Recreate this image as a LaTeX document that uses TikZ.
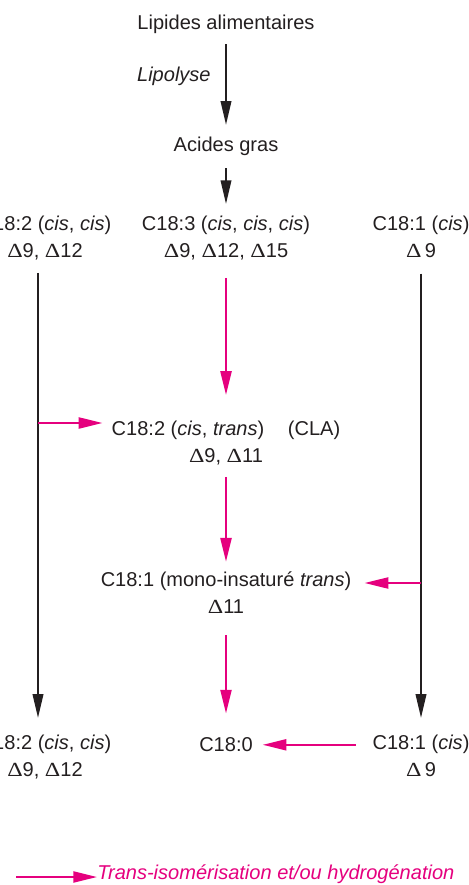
\documentclass[tikz,border=0pt]{standalone}
\usepackage{graphicx}
\usepackage{fontspec}
\setmainfont{Liberation Sans}
\newfontfamily\deltafont{Liberation Serif}
\usetikzlibrary{arrows.meta}
\definecolor{isored}{RGB}{229,0,126}
\definecolor{inkblack}{RGB}{35,31,32}
\newcommand{\dl}{\scalebox{1.2}[1]{\deltafont Δ}}
\tikzset{x=0.02cm, y=-0.02cm,
lbl/.style={ % Sets the look of every text label
inner sep=0pt,
anchor=base,
align=center,
text=inkblack,
font=\fontsize{11.4}{15}\selectfont},
blk/.style={ % Black conversion arrows
draw=inkblack,
line width=1.1pt,
-{Triangle[length=13.5pt,width=6pt]}},
mag/.style={ % Trans-isomerisation arrows
draw=isored,
line width=1.1pt,
-{Triangle[length=13.5pt,width=6.3pt]}}}

\begin{document}
\begin{tikzpicture}
	\useasboundingbox (0,0) rectangle (469,885);
	\clip (0,0) rectangle (469,885);
	% top
	\node[lbl] (lip) at (226,30) {Lipides alimentaires};
	\node[lbl, anchor=base east] (lipo) at (211,82) {\itshape Lipolyse};
	\node[lbl] (acid) at (226,152) {Acides gras};
	% first row (base = last line)
	\node[lbl] (l1) at (45,257) {C18:2 (\textit{cis}, \textit{cis})\\\dl9, \dl12};
	\node[lbl] (c1) at (226,257) {C18:3 (\textit{cis}, \textit{cis}, \textit{cis})\\\dl9, \dl12, \dl15};
	\node[lbl] (r1) at (421,257) {C18:1 (\textit{cis})\\\dl\,9};
	% middle
	\node[lbl] (cla) at (226,462) {C18:2 (\textit{cis}, \textit{trans})\hspace{13.5pt}(CLA)\\\dl9, \dl11};
	\node[lbl] (mono) at (226,613) {C18:1 (mono-insaturé \textit{trans})\\\dl11};
	% last row
	\node[lbl] (l3) at (45,776) {C18:2 (\textit{cis}, \textit{cis})\\\dl9, \dl12};
	\node[lbl] (c3) at (226,751.7) {C18:0};
	\node[lbl] (r3) at (421,776) {C18:1 (\textit{cis})\\\dl\,9};
	% legend
	\node[lbl, anchor=base west, text=isored, font=\fontsize{11.4}{15}\selectfont\itshape] (leg) at (97,879) {Trans-isomérisation et/ou hydrogénation};
	\coordinate (lline) at (38,0);
	\coordinate (ljoin) at (38,423);
	\coordinate (rjoin) at (421,583);
	\coordinate (legtail) at (16,877);
	% arrows
	\draw[blk, shorten <=5.6pt, shorten >=7pt] (lip) -- (acid);
	\draw[blk, shorten <=6.7pt, shorten >=6.7pt] (acid) -- (c1);
	\draw[blk, shorten <=7.4pt, shorten >=9.6pt] (l1.south -| lline) -- (l3.north -| lline);
	\draw[blk, shorten <=9.1pt, shorten >=9.6pt] (r1) -- (r3);
	\draw[mag, shorten <=10.2pt, shorten >=14.7pt] (c1) -- (cla);
	\draw[mag, shorten <=6.8pt, shorten >=5.6pt] (cla) -- (mono);
	\draw[mag, shorten <=12.5pt, shorten >=13.6pt] (mono) -- (c3);
	\draw[mag, shorten >=5.1pt] (ljoin) -- (ljoin -| cla.west);
	\draw[mag, shorten >=7.4pt] (rjoin) -- (rjoin -| mono.east);
	\draw[mag, shorten <=9.3pt, shorten >=5.5pt] (c3.east -| r3.west) -- (c3.east);
	\draw[mag] (legtail) -- (legtail -| leg.west);
\end{tikzpicture}
\end{document}
